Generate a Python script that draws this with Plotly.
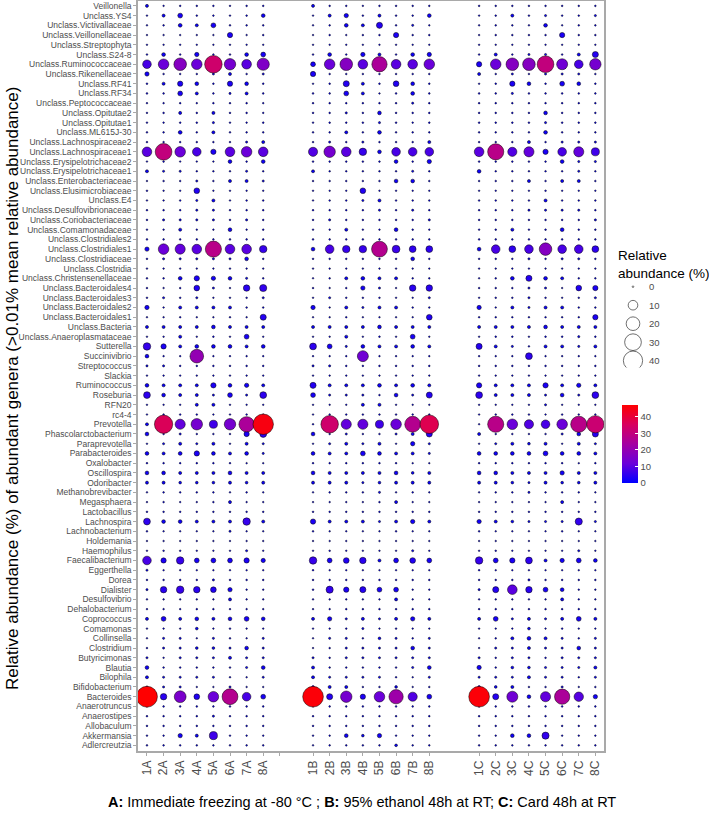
import numpy as np
import plotly.graph_objects as go

genera = [
    "Veillonella", "Unclass.YS4", "Unclass.Victivallaceae", "Unclass.Veillonellaceae",
    "Unclass.Streptophyta", "Unclass.S24-8", "Unclass.Ruminococcaceae", "Unclass.Rikenellaceae",
    "Unclass.RF41", "Unclass.RF34", "Unclass.Peptococcaceae", "Unclass.Opitutae2",
    "Unclass.Opitutae1", "Unclass.ML615J-30", "Unclass.Lachnospiraceae2", "Unclass.Lachnospiraceae1",
    "Unclass.Erysipelotrichaceae2", "Unclass.Erysipelotrichaceae1", "Unclass.Enterobacteriaceae",
    "Unclass.Elusimicrobiaceae", "Unclass.E4", "Unclass.Desulfovibrionaceae", "Unclass.Coriobacteriaceae",
    "Unclass.Comamonadaceae", "Unclass.Clostridiales2", "Unclass.Clostridiales1", "Unclass.Clostridiaceae",
    "Unclass.Clostridia", "Unclass.Christensenellaceae", "Unclass.Bacteroidales4", "Unclass.Bacteroidales3",
    "Unclass.Bacteroidales2", "Unclass.Bacteroidales1", "Unclass.Bacteria", "Unclass.Anaeroplasmataceae",
    "Sutterella", "Succinivibrio", "Streptococcus", "Slackia", "Ruminococcus", "Roseburia", "RFN20",
    "rc4-4", "Prevotella", "Phascolarctobacterium", "Paraprevotella", "Parabacteroides", "Oxalobacter",
    "Oscillospira", "Odoribacter", "Methanobrevibacter", "Megasphaera", "Lactobacillus", "Lachnospira",
    "Lachnobacterium", "Holdemania", "Haemophilus", "Faecalibacterium", "Eggerthella", "Dorea",
    "Dialister", "Desulfovibrio", "Dehalobacterium", "Coprococcus", "Comamonas", "Collinsella",
    "Clostridium", "Butyricimonas", "Blautia", "Bilophila", "Bifidobacterium", "Bacteroides",
    "Anaerotruncus", "Anaerostipes", "Allobaculum", "Akkermansia", "Adlercreutzia",
]

samples_A = ["1A", "2A", "3A", "4A", "5A", "6A", "7A", "8A"]
samples_B = ["1B", "2B", "3B", "4B", "5B", "6B", "7B", "8B"]
samples_C = ["1C", "2C", "3C", "4C", "5C", "6C", "7C", "8C"]

# relative abundance (%) per genus (rows, same order as genera) and sample (columns)
vals_A = [
    [1.0, 0.2, 0.3, 0.3, 0.3, 0.2, 0.3, 0.3],
    [0.1, 1.0, 2.5, 0.3, 0.3, 0.2, 0.3, 1.5],
    [0.1, 0.3, 1.5, 1.0, 2.5, 0.3, 0.3, 0.3],
    [0.1, 0.1, 0.1, 0.1, 0.1, 3.0, 0.1, 0.3],
    [0.1, 0.1, 0.1, 0.1, 0.1, 0.1, 0.1, 0.1],
    [0.3, 1.5, 0.3, 2.0, 0.3, 0.3, 1.5, 2.5],
    [8, 12, 17, 12, 33, 14, 10, 16],
    [2.0, 0.3, 0.3, 0.3, 0.5, 1.0, 0.3, 0.5],
    [0.3, 1.0, 3.0, 1.5, 0.3, 3.0, 1.5, 0.3],
    [0.3, 0.3, 2.5, 1.0, 0.3, 0.5, 1.0, 0.3],
    [0.1, 0.1, 0.3, 0.1, 0.3, 0.3, 0.3, 0.1],
    [0.1, 0.3, 1.0, 0.3, 1.0, 0.3, 0.3, 0.1],
    [0.1, 0.1, 0.3, 0.3, 0.5, 0.1, 0.1, 0.3],
    [0.3, 0.3, 1.5, 0.3, 1.0, 0.3, 0.3, 0.3],
    [0.3, 0.3, 0.3, 0.3, 0.3, 0.3, 0.5, 1.0],
    [10, 30, 12, 8, 3, 10, 12, 10],
    [0.1, 0.3, 0.1, 0.1, 0.1, 1.5, 0.3, 1.5],
    [1.0, 0.5, 0.5, 0.3, 0.3, 0.3, 0.5, 0.3],
    [0.1, 0.3, 0.3, 0.5, 0.3, 1.0, 1.0, 0.5],
    [0.3, 0.1, 0.1, 3.5, 0.1, 0.1, 0.1, 0.1],
    [0.1, 0.1, 0.3, 0.5, 1.0, 0.1, 0.3, 0.3],
    [0.3, 0.3, 0.3, 0.5, 0.5, 0.3, 0.3, 0.3],
    [0.3, 0.5, 0.5, 0.5, 0.5, 0.3, 0.5, 0.3],
    [0.1, 0.1, 1.0, 0.1, 0.1, 1.5, 0.1, 0.3],
    [0.3, 0.3, 0.3, 0.3, 0.3, 0.3, 0.3, 0.3],
    [2, 12, 11, 10, 28, 10, 10, 6],
    [0.3, 0.5, 0.5, 0.5, 0.5, 0.5, 1.5, 0.3],
    [0.1, 0.1, 0.1, 0.1, 0.1, 0.1, 0.1, 0.1],
    [0.3, 0.3, 1.5, 3.0, 2.0, 1.5, 0.5, 0.3],
    [0.3, 0.1, 0.3, 3.5, 0.5, 0.1, 4.5, 5.5],
    [0.3, 0.5, 0.3, 0.5, 0.1, 0.1, 0.3, 0.5],
    [2.0, 0.1, 1.0, 1.0, 1.0, 1.0, 0.3, 0.3],
    [0.1, 0.1, 0.3, 0.1, 0.1, 0.3, 0.1, 4.0],
    [1.0, 1.0, 1.0, 1.0, 1.5, 1.0, 1.0, 1.0],
    [0.1, 0.1, 1.0, 0.1, 0.3, 0.1, 2.5, 0.1],
    [6, 3, 1.0, 1.5, 1.5, 1.5, 1.0, 1.5],
    [1.5, 0.1, 0.1, 20, 0.1, 0.1, 0.1, 0.1],
    [0.5, 0.5, 0.3, 0.3, 0.3, 0.3, 0.3, 0.3],
    [0.1, 0.1, 0.1, 0.1, 0.1, 0.1, 0.1, 0.1],
    [1.5, 1.0, 1.0, 1.0, 3.0, 1.5, 2.0, 1.0],
    [5, 1.5, 1.0, 1.0, 0.5, 2.5, 0.5, 5],
    [0.1, 0.1, 0.1, 1.0, 1.0, 0.1, 0.1, 0.1],
    [0.1, 0.3, 0.3, 0.3, 0.1, 0.1, 0.3, 0.1],
    [1.0, 36, 11, 14, 7, 14, 25, 45],
    [1.5, 0.3, 0.5, 0.3, 0.3, 0.3, 3.0, 5],
    [0.1, 0.5, 1.0, 0.5, 1.0, 0.1, 1.0, 0.5],
    [1.5, 1.0, 1.5, 3.0, 1.5, 1.0, 1.5, 0.5],
    [0.3, 0.3, 0.3, 0.3, 0.3, 0.3, 0.1, 0.1],
    [1.5, 1.5, 1.0, 1.0, 1.0, 1.5, 1.0, 1.0],
    [1.0, 1.0, 0.8, 0.8, 0.8, 1.0, 0.8, 1.0],
    [0.1, 0.3, 0.3, 0.3, 0.3, 0.1, 0.3, 0.1],
    [0.1, 0.3, 0.1, 0.1, 0.3, 1.0, 0.1, 0.1],
    [0.3, 0.3, 0.3, 0.3, 0.3, 0.3, 0.3, 0.3],
    [5, 1.5, 1.5, 1.0, 1.0, 1.0, 6, 1.0],
    [0.3, 0.1, 0.1, 0.1, 0.1, 0.5, 0.1, 0.1],
    [0.1, 0.1, 0.1, 0.1, 0.1, 0.1, 0.1, 0.1],
    [0.1, 0.3, 0.3, 0.1, 0.1, 0.1, 0.5, 0.1],
    [8, 3, 6, 2.5, 2.5, 2.5, 3, 2],
    [0.5, 0.1, 0.1, 0.1, 0.1, 0.1, 0.1, 0.1],
    [0.3, 0.3, 0.3, 0.3, 0.5, 0.3, 0.3, 0.3],
    [0.5, 4.5, 6, 4.5, 3.5, 2, 0.1, 0.1],
    [0.1, 0.1, 0.1, 0.1, 0.1, 1.0, 0.1, 0.1],
    [0.1, 0.1, 0.1, 0.3, 0.3, 0.1, 0.1, 0.1],
    [1.0, 2.5, 1.0, 1.5, 1.0, 1.5, 2.5, 1.5],
    [0.1, 0.1, 0.1, 0.8, 0.1, 0.3, 0.1, 0.1],
    [0.1, 0.5, 0.5, 0.1, 0.5, 0.3, 0.1, 0.5],
    [0.3, 0.5, 0.5, 0.8, 0.8, 0.5, 1.5, 0.5],
    [0.5, 0.1, 0.5, 0.5, 0.5, 1.0, 0.5, 0.5],
    [1.5, 0.3, 0.3, 0.3, 0.3, 0.3, 0.5, 1.5],
    [1.0, 0.5, 0.5, 0.5, 0.5, 0.3, 0.1, 0.5],
    [0.5, 0.5, 0.5, 0.1, 0.1, 0.5, 0.1, 0.1],
    [47, 4.5, 15, 3.5, 12, 27, 8, 2.5],
    [0.1, 0.3, 0.3, 0.3, 0.3, 0.3, 0.3, 0.3],
    [0.3, 0.3, 0.3, 0.3, 0.5, 0.3, 0.3, 0.3],
    [0.3, 0.3, 0.3, 0.3, 0.3, 0.3, 0.3, 0.3],
    [0.1, 0.1, 2.0, 1.0, 7, 0.1, 0.1, 0.1],
    [0.3, 0.3, 0.3, 0.3, 0.3, 0.3, 0.3, 0.3],
]

vals_B = [
    [1.0, 0.3, 0.3, 0.2, 0.3, 0.3, 0.3, 0.3],
    [0.1, 1.0, 2.0, 0.3, 1.0, 0.3, 0.3, 1.5],
    [0.1, 0.3, 1.5, 1.0, 4.0, 0.3, 0.5, 0.1],
    [0.1, 0.3, 0.1, 0.3, 0.3, 3.0, 0.3, 0.3],
    [0.2, 0.2, 0.2, 0.2, 0.2, 0.2, 0.2, 0.2],
    [0.3, 1.5, 0.3, 2.0, 1.0, 0.3, 1.5, 2.0],
    [2.5, 12, 17, 10, 25, 10, 10, 12],
    [3.0, 0.3, 0.3, 0.3, 0.3, 0.3, 0.3, 0.3],
    [0.1, 0.3, 4.0, 1.0, 0.3, 3.5, 1.5, 0.3],
    [0.3, 0.3, 2.5, 1.0, 0.1, 0.3, 1.5, 0.3],
    [0.3, 0.3, 0.3, 0.3, 0.3, 0.3, 0.5, 0.3],
    [0.3, 0.3, 0.5, 0.3, 1.5, 0.3, 0.3, 0.3],
    [0.1, 0.3, 0.3, 0.3, 0.5, 0.3, 0.1, 0.3],
    [0.3, 0.3, 1.0, 0.3, 1.5, 0.3, 0.3, 0.3],
    [0.3, 0.5, 0.3, 0.5, 0.3, 0.3, 0.3, 1.0],
    [9, 14, 10, 6, 1.5, 8, 8, 8],
    [0.3, 0.3, 0.3, 0.3, 0.3, 1.5, 0.3, 2.0],
    [1.0, 0.3, 0.3, 0.3, 0.3, 0.3, 0.5, 0.3],
    [0.3, 0.3, 0.3, 0.3, 0.3, 1.5, 1.5, 0.3],
    [0.1, 0.1, 0.1, 3.5, 0.1, 0.1, 0.1, 0.1],
    [0.1, 0.3, 0.3, 0.5, 1.0, 0.3, 0.3, 0.3],
    [0.3, 0.3, 0.3, 0.3, 0.5, 0.3, 0.5, 0.3],
    [0.3, 0.5, 0.3, 0.3, 0.3, 0.3, 0.3, 0.5],
    [0.1, 0.1, 1.0, 0.1, 0.1, 1.5, 0.3, 0.1],
    [0.3, 0.3, 0.3, 0.3, 0.3, 0.3, 0.3, 0.3],
    [1.5, 8, 6, 6, 27, 6.5, 5, 5],
    [0.3, 0.3, 0.3, 0.3, 0.3, 0.3, 1.5, 0.3],
    [0.2, 0.2, 0.2, 0.2, 0.2, 0.2, 0.2, 0.2],
    [0.1, 0.3, 1.0, 1.5, 1.0, 1.0, 0.3, 0.3],
    [0.3, 0.1, 0.3, 2.0, 0.5, 0.1, 4.5, 4.5],
    [0.1, 0.5, 0.3, 0.3, 0.3, 0.1, 0.1, 0.5],
    [2.0, 0.1, 1.0, 0.5, 1.0, 1.0, 0.3, 0.3],
    [0.1, 0.1, 0.3, 0.1, 0.1, 0.1, 0.1, 3.5],
    [1.0, 1.0, 1.0, 1.0, 1.5, 1.0, 1.0, 1.0],
    [0.1, 0.1, 1.0, 0.1, 0.3, 0.1, 2.5, 0.1],
    [5, 2.5, 0.5, 1.5, 1.0, 1.0, 1.5, 1.0],
    [0.1, 0.1, 0.1, 13, 0.1, 0.1, 0.1, 0.1],
    [0.5, 0.5, 0.3, 0.3, 0.3, 0.3, 0.3, 0.3],
    [0.1, 0.1, 0.1, 0.1, 0.1, 0.1, 0.1, 0.1],
    [4, 1.0, 1.0, 1.0, 1.5, 1.0, 1.5, 1.0],
    [2.5, 0.5, 0.5, 0.5, 0.3, 1.5, 0.5, 4],
    [0.1, 0.1, 0.1, 1.0, 1.0, 0.1, 0.1, 0.1],
    [0.1, 0.3, 0.3, 0.3, 0.3, 0.3, 0.3, 0.3],
    [0.3, 33, 11, 11, 7, 12, 27, 37],
    [1.5, 0.3, 0.5, 0.3, 0.3, 0.5, 1.0, 4],
    [0.1, 0.5, 1.0, 0.5, 1.0, 0.1, 2.0, 0.5],
    [1.5, 1.0, 1.0, 2.5, 1.5, 1.0, 1.0, 0.5],
    [0.3, 0.3, 0.3, 0.3, 0.3, 0.3, 0.1, 0.1],
    [1.5, 1.0, 1.0, 1.0, 1.0, 1.5, 0.8, 1.0],
    [1.0, 1.0, 1.0, 0.5, 0.8, 1.0, 1.0, 1.0],
    [0.1, 0.3, 0.3, 0.3, 0.5, 0.1, 0.3, 0.1],
    [0.1, 0.1, 0.1, 0.1, 0.3, 1.0, 0.1, 0.1],
    [0.3, 0.3, 0.3, 0.3, 0.3, 0.3, 0.3, 0.3],
    [3, 1.0, 1.0, 1.0, 0.5, 1.0, 2.0, 1.0],
    [0.3, 0.1, 0.1, 0.1, 0.1, 0.3, 0.1, 0.1],
    [0.2, 0.2, 0.2, 0.2, 0.2, 0.2, 0.2, 0.2],
    [0.1, 0.3, 0.1, 0.1, 0.1, 0.1, 0.5, 0.1],
    [6, 2.5, 3.5, 4.5, 1.0, 2.5, 3.5, 2.5],
    [0.3, 0.1, 0.1, 0.1, 0.1, 0.1, 0.1, 0.1],
    [0.3, 0.3, 0.3, 0.3, 0.3, 0.3, 0.3, 0.3],
    [0.3, 5.5, 3, 4, 2.5, 2.5, 0.1, 0.1],
    [0.1, 0.1, 0.1, 0.1, 0.1, 1.0, 0.1, 0.1],
    [0.1, 0.1, 0.3, 0.3, 0.3, 0.3, 0.3, 0.3],
    [1.0, 2.0, 0.5, 1.0, 0.5, 1.0, 2.0, 1.0],
    [0.1, 0.1, 0.3, 0.5, 0.1, 0.3, 0.1, 0.1],
    [0.1, 0.5, 0.5, 0.3, 0.8, 0.5, 0.3, 0.5],
    [0.1, 0.3, 0.5, 0.5, 0.5, 0.5, 1.5, 0.5],
    [0.5, 0.3, 0.5, 0.5, 0.5, 0.5, 0.5, 0.5],
    [1.0, 0.3, 0.3, 0.3, 0.3, 0.3, 0.5, 1.5],
    [1.0, 0.5, 0.5, 0.5, 0.5, 0.3, 0.1, 0.5],
    [0.8, 1.0, 1.0, 0.3, 0.3, 0.8, 0.1, 0.3],
    [46, 4, 14, 3, 12, 22, 9, 2.5],
    [0.1, 0.3, 0.3, 0.3, 0.3, 0.3, 0.3, 0.3],
    [0.3, 0.3, 0.3, 0.3, 0.3, 0.3, 0.3, 0.3],
    [0.3, 0.3, 0.3, 0.3, 0.3, 0.3, 0.3, 0.3],
    [0.1, 0.1, 1.5, 0.8, 2.0, 0.1, 0.1, 0.1],
    [0.1, 0.3, 0.3, 0.3, 0.3, 0.8, 0.3, 0.3],
]

vals_C = [
    [0.3, 0.3, 0.3, 0.3, 0.3, 0.3, 0.3, 0.3],
    [0.1, 0.3, 1.0, 0.3, 0.5, 0.3, 0.3, 0.5],
    [0.1, 0.3, 0.3, 0.1, 1.5, 0.1, 0.3, 0.3],
    [0.1, 0.3, 0.3, 0.3, 0.3, 3.0, 0.3, 0.3],
    [0.2, 0.2, 0.2, 0.2, 0.2, 0.2, 0.2, 0.2],
    [0.3, 1.0, 0.3, 0.5, 0.5, 0.3, 1.0, 4.0],
    [3, 12, 17, 17, 30, 13, 8, 14],
    [1.0, 0.3, 0.5, 0.3, 0.5, 0.5, 0.5, 0.3],
    [0.1, 0.3, 3.0, 1.5, 0.3, 2.5, 1.5, 0.3],
    [0.3, 0.3, 0.5, 0.3, 0.3, 0.3, 0.3, 0.3],
    [0.3, 0.3, 0.3, 0.3, 0.3, 0.3, 0.3, 0.3],
    [0.3, 0.3, 0.3, 0.3, 1.5, 0.3, 0.3, 0.3],
    [0.3, 0.3, 0.3, 0.3, 0.5, 0.3, 0.3, 0.3],
    [0.3, 0.3, 0.3, 0.3, 1.5, 0.3, 0.3, 0.3],
    [0.3, 0.3, 0.3, 1.0, 0.3, 0.5, 0.5, 0.5],
    [10, 28, 9, 11, 3, 8, 11, 7],
    [0.3, 0.3, 0.3, 0.3, 0.3, 1.5, 0.5, 0.5],
    [1.5, 0.3, 0.3, 0.3, 0.3, 0.3, 0.5, 0.3],
    [0.3, 0.3, 0.3, 1.0, 0.3, 1.0, 1.0, 0.3],
    [0.1, 0.1, 0.1, 0.1, 0.3, 0.1, 0.1, 0.1],
    [0.3, 0.3, 0.3, 0.3, 1.0, 0.3, 0.3, 0.3],
    [0.3, 0.3, 0.3, 0.5, 0.5, 0.5, 0.5, 0.3],
    [0.3, 0.3, 0.3, 0.3, 0.3, 0.3, 0.3, 0.5],
    [0.1, 0.3, 1.0, 0.1, 0.3, 1.5, 0.3, 0.3],
    [0.3, 0.3, 0.3, 0.3, 0.3, 0.3, 0.3, 0.3],
    [1.5, 8, 5, 8, 17, 8, 8, 5],
    [0.3, 0.3, 0.3, 0.5, 0.3, 0.5, 0.5, 0.3],
    [0.2, 0.2, 0.2, 0.2, 0.2, 0.2, 0.2, 0.2],
    [0.1, 0.3, 1.5, 4.0, 1.5, 1.0, 0.3, 0.3],
    [0.3, 0.3, 0.3, 0.5, 0.5, 0.1, 3.5, 3.0],
    [0.1, 0.3, 0.3, 0.5, 0.3, 0.1, 0.3, 0.5],
    [2.0, 0.1, 1.0, 0.5, 1.0, 1.0, 0.3, 0.3],
    [0.3, 0.3, 0.3, 0.3, 0.3, 0.3, 0.3, 3.0],
    [1.0, 1.0, 1.0, 1.0, 1.5, 1.0, 1.0, 1.0],
    [0.1, 0.3, 0.3, 0.1, 0.3, 0.3, 0.5, 0.3],
    [4, 1.0, 0.5, 0.1, 1.0, 1.0, 0.5, 1.0],
    [0.1, 0.1, 0.1, 5, 0.1, 0.1, 0.1, 0.1],
    [0.3, 0.3, 0.3, 0.3, 0.3, 0.3, 0.3, 0.3],
    [0.1, 0.1, 0.1, 0.1, 0.1, 0.1, 0.1, 0.1],
    [3, 1.0, 1.0, 1.0, 3.0, 1.0, 2.0, 1.0],
    [5, 1.0, 1.0, 1.0, 0.5, 1.5, 0.5, 5],
    [0.1, 0.1, 0.1, 0.1, 0.5, 0.1, 0.1, 0.1],
    [0.1, 0.3, 0.3, 0.3, 0.1, 0.3, 0.3, 0.3],
    [0.1, 28, 12, 9, 8, 12, 28, 32],
    [1.0, 0.3, 0.3, 0.3, 0.3, 0.5, 1.5, 4],
    [0.1, 0.5, 1.0, 0.8, 1.0, 0.1, 1.0, 0.5],
    [1.5, 1.5, 1.5, 1.5, 2.5, 1.5, 1.5, 1.0],
    [0.3, 0.3, 0.3, 0.3, 0.3, 0.3, 0.1, 0.3],
    [1.5, 1.5, 1.0, 1.0, 1.0, 2.0, 1.0, 1.0],
    [1.0, 1.0, 0.8, 0.5, 1.0, 0.8, 0.8, 1.0],
    [0.1, 0.3, 0.3, 0.5, 0.3, 0.3, 0.3, 0.1],
    [0.1, 0.1, 0.1, 0.1, 0.1, 1.0, 0.1, 0.1],
    [0.3, 0.3, 0.3, 0.3, 0.3, 0.3, 0.3, 0.3],
    [2.0, 1.0, 0.8, 0.5, 0.5, 0.5, 5.5, 0.5],
    [0.3, 0.1, 0.1, 0.1, 0.1, 0.3, 0.1, 0.1],
    [0.1, 0.1, 0.1, 0.1, 0.1, 0.1, 0.1, 0.1],
    [0.1, 0.3, 0.1, 0.1, 0.1, 0.1, 0.5, 0.1],
    [6, 2.5, 3, 5, 1.0, 2, 2.5, 1.5],
    [0.3, 0.1, 0.1, 0.1, 0.1, 0.1, 0.1, 0.1],
    [0.3, 0.3, 0.3, 0.5, 0.3, 0.3, 0.3, 0.3],
    [0.5, 4, 10, 4.5, 2.5, 1.5, 0.1, 0.1],
    [0.1, 0.1, 0.1, 0.1, 0.1, 1.0, 0.1, 0.1],
    [0.3, 0.3, 0.3, 0.3, 0.3, 0.3, 0.3, 0.3],
    [1.0, 2.5, 0.5, 1.0, 0.5, 1.0, 2.5, 1.0],
    [0.1, 0.1, 0.1, 0.8, 0.1, 0.3, 0.1, 0.1],
    [0.1, 0.3, 1.0, 1.5, 1.0, 0.5, 0.3, 0.5],
    [0.1, 0.5, 0.5, 1.0, 0.5, 0.5, 1.5, 0.5],
    [0.5, 0.3, 0.5, 0.5, 0.3, 0.5, 0.5, 0.5],
    [2.0, 0.3, 0.8, 0.8, 0.5, 0.5, 0.5, 1.0],
    [0.5, 0.5, 0.5, 1.0, 0.5, 0.5, 0.3, 0.5],
    [0.8, 0.8, 1.0, 0.3, 0.3, 0.5, 0.1, 0.3],
    [46, 4, 13, 1.5, 11, 25, 9.5, 2],
    [0.3, 0.3, 0.3, 0.3, 0.3, 0.3, 0.3, 0.3],
    [0.3, 0.3, 0.3, 0.3, 0.3, 0.3, 0.3, 0.3],
    [0.3, 0.3, 0.3, 0.3, 0.3, 0.3, 0.3, 0.3],
    [0.1, 0.1, 1.5, 1.5, 5.5, 0.1, 0.1, 0.1],
    [0.3, 0.3, 0.3, 0.3, 0.3, 0.3, 0.3, 0.3],
]

legend_sizes = [0, 10, 20, 30, 40]
colorbar_ticks = [0, 10, 20, 30, 40]
caption = ("<b>A:</b> Immediate freezing at -80 °C ; <b>B:</b> 95% ethanol 48h at RT; "
           "<b>C:</b> Card 48h at RT")
y_title = "Relative abundance (%) of abundant genera (>0.01% mean relative abundance)"

# ---- layout / style ----
W, H = 709, 813
ML, MR, MT, MB = 138, 0, 1, 62
PW = W - ML - MR
PH = H - MT - MB
PANEL_RIGHT = 604

def px_x(p):
    return (p - ML) / PW

def px_y(p):
    return 1 - (p - MT) / PH

FONT = "Liberation Sans, Arial, Helvetica, sans-serif"
TXT = "#4D4D4D"
AX = "#A9A9A9"
CSCALE = [[0.0, "#0000FF"], [0.25, "#6A00DA"], [0.5, "#A400A2"], [0.75, "#D8005E"], [1.0, "#FF0000"]]
CMAX = 47

def bubble_size(v):
    return np.maximum(1.6, 3.05 * np.sqrt(np.asarray(v, dtype=float)))

groups = [(samples_A, vals_A, 1), (samples_B, vals_B, 11), (samples_C, vals_C, 21)]
xs, ys, vs = [], [], []
tickvals, ticktext = [], []
for samples, vals, start in groups:
    for j, s in enumerate(samples):
        tickvals.append(start + j)
        ticktext.append(s)
    for i, row in enumerate(vals):
        for j, v in enumerate(row):
            xs.append(start + j)
            ys.append(i)
            vs.append(v)
tickvals.append(9)
ticktext.append("")

order = np.argsort(vs, kind="stable")
xs = np.array(xs)[order]
ys = np.array(ys)[order]
vs = np.array(vs, dtype=float)[order]

fig = go.Figure()
fig.add_trace(go.Scatter(
    x=xs, y=ys, mode="markers", showlegend=False, hoverinfo="skip",
    marker=dict(
        size=bubble_size(vs), color=vs, colorscale=CSCALE, cmin=0, cmax=CMAX,
        line=dict(color="black", width=0.5), opacity=1,
        showscale=True,
        colorbar=dict(
            thickness=16, len=78, lenmode="pixels",
            x=px_x(621.7), xanchor="left", xpad=0,
            y=px_y(444), yanchor="middle", ypad=0,
            tickvals=colorbar_ticks, ticks="inside", ticklen=3, tickcolor="white",
            tickfont=dict(size=9.5, color=TXT, family=FONT), outlinewidth=0,
        ),
    ),
))

# size legend
fig.add_trace(go.Scatter(
    x=[633] * len(legend_sizes), y=legend_sizes, xaxis="x2", yaxis="y2",
    mode="markers", showlegend=False, hoverinfo="skip",
    marker=dict(size=bubble_size(legend_sizes), color="white",
                line=dict(color="black", width=0.8)),
))
for v in legend_sizes:
    fig.add_annotation(x=647, y=v, xref="x2", yref="y2", text=str(v), showarrow=False,
                       xanchor="left", yanchor="middle",
                       font=dict(size=9.5, color=TXT, family=FONT))

fig.add_annotation(x=px_x(616), y=px_y(246), xref="paper", yref="paper",
                   text="Relative<br>abundance (%)", showarrow=False, align="left",
                   xanchor="left", yanchor="top", font=dict(size=13.5, color="black", family=FONT))

fig.add_annotation(x=px_x(12), y=px_y(389), xref="paper", yref="paper", text=y_title,
                   textangle=-90, showarrow=False, xanchor="center", yanchor="middle",
                   font=dict(size=17, color="black", family=FONT))

fig.add_annotation(x=px_x(362), y=px_y(802), xref="paper", yref="paper", text=caption,
                   showarrow=False, xanchor="center", yanchor="middle",
                   font=dict(size=14.5, color="black", family=FONT))

fig.update_layout(
    width=W, height=H, margin=dict(l=ML, r=MR, t=MT, b=MB),
    paper_bgcolor="white", plot_bgcolor="white",
    font=dict(family=FONT),
    xaxis=dict(
        domain=[0, px_x(PANEL_RIGHT)], range=[0.46, 28.52],
        tickvals=tickvals, ticktext=ticktext, tickangle=-90,
        tickfont=dict(size=12, color=TXT, family=FONT),
        ticks="outside", ticklen=3, tickcolor=AX,
        showline=True, linecolor=AX, linewidth=1.5, mirror=True,
        showgrid=False, zeroline=False,
    ),
    yaxis=dict(
        range=[76.58, -0.5], tickvals=list(range(len(genera))), ticktext=genera,
        tickfont=dict(size=8.5, color=TXT, family=FONT),
        ticks="outside", ticklen=3, tickcolor=AX,
        showline=True, linecolor=AX, linewidth=1.5, mirror=True,
        showgrid=False, zeroline=False,
    ),
    xaxis2=dict(domain=[px_x(615), px_x(700)], range=[615, 700], visible=False,
                anchor="y2", fixedrange=True),
    yaxis2=dict(domain=[px_y(367.5), px_y(280)], range=[43.68, -3.62], visible=False,
                anchor="x2", fixedrange=True),
)

fig.write_html("out.html", config={"displayModeBar": False},
               post_script="document.body.style.margin='0';document.body.style.padding='0';")
